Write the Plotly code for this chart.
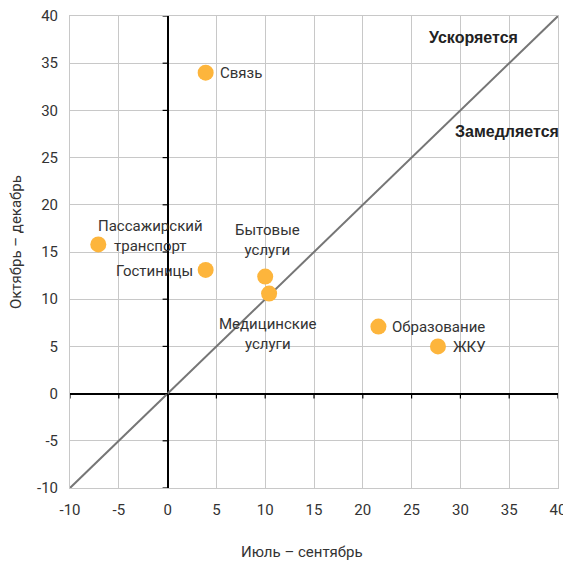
import plotly.graph_objects as go

categories = ["Связь", "Пассажирский<br>транспорт", "Гостиницы", "Бытовые<br>услуги",
              "Медицинские<br>услуги", "Образование", "ЖКУ"]
jul_sep = [3.9, -7.1, 3.9, 10.0, 10.4, 21.6, 27.7]
oct_dec = [34.0, 15.8, 13.1, 12.4, 10.6, 7.1, 5.0]
diag = [-10, 40]
tick_vals = [-10, -5, 0, 5, 10, 15, 20, 25, 30, 35, 40]
tick_text = ["-10", "-5", "0", "5", "10", "15", "20", "25", "30", "35", "40"]

# label placement (xanchor, yanchor, xshift, yshift)
label_pos = [
    ("left", "middle", 12, 0),
    ("center", "middle", 52, 8),
    ("right", "middle", -11, -1),
    ("center", "bottom", 2, 16),
    ("center", "top", -1, -19),
    ("left", "middle", 12, 0),
    ("left", "middle", 13, -1),
]

fig = go.Figure()
fig.add_trace(go.Scatter(x=diag, y=diag, mode="lines",
                         line=dict(color="#767676", width=2), hoverinfo="skip"))
fig.add_trace(go.Scatter(x=jul_sep, y=oct_dec, mode="markers",
                         marker=dict(color="#FDB53C", size=16, line=dict(width=0)),
                         text=categories))

font_main = dict(family="Roboto, 'Open Sans', sans-serif", size=15, color="#333333")
for cat, x, y, (xa, ya, xs, ys) in zip(categories, jul_sep, oct_dec, label_pos):
    fig.add_annotation(x=x, y=y, text=cat, showarrow=False, xanchor=xa, yanchor=ya,
                       xshift=xs, yshift=ys, font=font_main, align="center")

bold = dict(family="Liberation Sans, Arial, sans-serif", size=16, color="#222222")
fig.add_annotation(x=31.3, y=37.7, text="<b>Ускоряется</b>", showarrow=False, font=bold)
fig.add_annotation(x=34.8, y=27.8, text="<b>Замедляется</b>", showarrow=False, font=bold)

# axis titles
fig.add_annotation(xref="paper", yref="paper", x=0.475, y=-0.1356, text="Июль – сентябрь",
                   showarrow=False, xanchor="center", yanchor="middle", font=font_main)
fig.add_annotation(xref="paper", yref="paper", x=-0.1107, y=0.521, text="Октябрь – декабрь",
                   showarrow=False, xanchor="center", yanchor="middle", textangle=-90,
                   font=font_main)

# small tick marks on the axes crossing at zero
for v in tick_vals:
    fig.add_shape(type="line", xref="x", yref="y", x0=v, x1=v,
                  ysizemode="pixel", yanchor=0, y0=0, y1=-5,
                  line=dict(color="#000000", width=1.2))
    fig.add_shape(type="line", xref="x", yref="y", y0=v, y1=v,
                  xsizemode="pixel", xanchor=0, x0=-5, x1=0,
                  line=dict(color="#000000", width=1.2))

axis_common = dict(range=[-10, 40], tickvals=tick_vals, ticktext=tick_text,
                   showgrid=True, gridcolor="#c8c8c8", automargin=False,
                   gridwidth=1, zeroline=True, zerolinecolor="#000000", zerolinewidth=1.5,
                   showline=True, linecolor="#c8c8c8", linewidth=1, mirror=True,
                   tickfont=font_main, ticks="", ticklabelstandoff=8,
                   ticklabeloverflow="allow")

fig.update_xaxes(**axis_common)
fig.update_yaxes(**axis_common)

# page body has an 8px default margin, so the figure is shrunk to compensate
fig.update_layout(width=563, height=555, showlegend=False,
                  plot_bgcolor="white", paper_bgcolor="white",
                  margin=dict(l=62, r=13, t=8, b=75))

fig.write_html("out.html")
